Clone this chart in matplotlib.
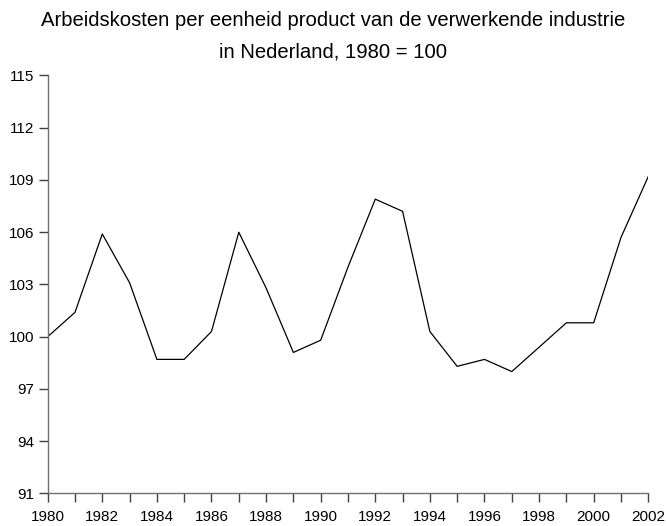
import matplotlib.pyplot as plt

# ---- data ----
years = list(range(1980, 2003))
values = [100.0, 101.4, 105.9, 103.1, 98.7, 98.7, 100.3, 106.0, 102.8, 99.1,
          99.8, 104.0, 107.9, 107.2, 100.3, 98.3, 98.7, 98.0, 99.4, 100.8,
          100.8, 105.7, 109.2]
y_ticks = [91, 94, 97, 100, 103, 106, 109, 112, 115]
x_label_years = list(range(1980, 2003, 2))
title_lines = ["Arbeidskosten per eenheid product van de verwerkende industrie",
               "in Nederland, 1980 = 100"]

plt.rcParams['font.family'] = ['Liberation Sans', 'DejaVu Sans']

fig = plt.figure(figsize=(6.66, 5.26), dpi=100)
ax = fig.add_axes([0.0716, 0.0618, 0.9018, 0.7947])

ax.plot(years, values, color='black', linewidth=0.9)

ax.set_xlim(1980, 2002)
ax.set_ylim(91, 115)
ax.set_yticks(y_ticks)
ax.set_xticks(years)
ax.set_xticklabels([str(y) if y in x_label_years else '' for y in years])

for s in ['top', 'right']:
    ax.spines[s].set_visible(False)
for s in ['left', 'bottom']:
    ax.spines[s].set_color('#707070')
    ax.spines[s].set_linewidth(1.0)

ax.tick_params(axis='both', direction='out', length=6.5, width=1.0,
               color='#404040', labelsize=11)
ax.tick_params(axis='y', pad=3)
ax.tick_params(axis='x', pad=5.5)

fig.text(0.5, 0.9506, title_lines[0], ha='center', va='baseline', fontsize=14.6)
fig.text(0.5, 0.8916, title_lines[1], ha='center', va='baseline', fontsize=14.6)

fig.savefig('out.png', dpi=100)
